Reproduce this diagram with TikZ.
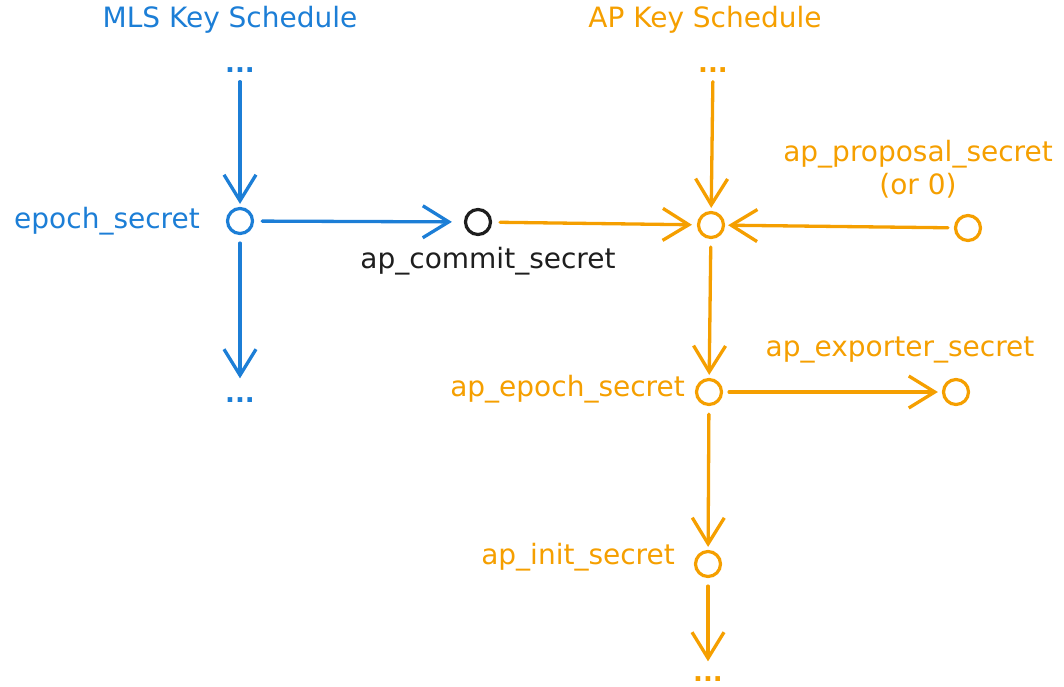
\documentclass[tikz,border=0pt]{standalone}
\usepackage{fontspec}
\setmainfont{DejaVu Sans}
\usetikzlibrary{arrows.meta}
\definecolor{mblue}{HTML}{1C7ED6}
\definecolor{morange}{HTML}{F59F00}
\definecolor{mblack}{HTML}{1E1E1E}
\tikzset{
  txt/.style={inner sep=1pt, font=\fontsize{28}{33}\selectfont},
  dots/.style={inner sep=1pt, font=\bfseries\fontsize{26}{30}\selectfont},
  dot/.style={circle, draw, line width=3.2pt, minimum size=25pt, inner sep=0pt},
  flow/.style={line width=3.3pt, line cap=round, -{Straight Barb[length=26pt,width=32pt,line width=3.3pt]}},
}
\begin{document}
\begin{tikzpicture}[x=1pt,y=-1pt]
\useasboundingbox (0,0) rectangle (1064,686);
% titles
\node[txt, text=mblue] (t1) at (230,20) {MLS Key Schedule};
\node[txt, text=morange] (t2) at (705,20) {AP Key Schedule};
% MLS column
\node[dots, text=mblue] (d1) at (240,70) {...};
\node[dot, draw=mblue] (es) at (240,221) {};
\node[txt, text=mblue, anchor=east] (esl) at (201,221) {epoch\_secret};
\node[dots, text=mblue] (d2) at (240,400) {...};
% commit
\node[dot, draw=mblack] (cs) at (478,222) {};
\node[txt, text=mblack] (csl) at (488,261) {ap\_commit\_secret};
% AP column
\node[dots, text=morange] (d3) at (713,70) {...};
\node[dot, draw=morange] (aps) at (711,225) {};
\node[dot, draw=morange] (ps) at (968,228) {};
\node[txt, text=morange, align=center] (psl) at (918,169) {ap\_proposal\_secret\\(or 0)};
\node[dot, draw=morange] (ae) at (709,392) {};
\node[txt, text=morange, anchor=east] (ael) at (686,389) {ap\_epoch\_secret};
\node[dot, draw=morange] (ex) at (956,392) {};
\node[txt, text=morange] (exl) at (900,350) {ap\_exporter\_secret};
\node[dot, draw=morange] (ai) at (708,564) {};
\node[txt, text=morange, anchor=east] (ail) at (676,557) {ap\_init\_secret};
\node[dots, text=morange] (d4) at (708,679) {...};
% connectors
\draw[flow, mblue, shorten <=8pt, shorten >=3pt] (d1) -- (es);
\draw[flow, mblue, shorten <=8pt, shorten >=18pt] (es) -- (d2);
\draw[flow, mblue, shorten <=8pt, shorten >=12pt] (es) -- (cs);
\draw[flow, morange, shorten <=8pt, shorten >=5pt] (cs) -- (aps);
\draw[flow, morange, shorten <=8pt, shorten >=3pt] (d3) -- (aps);
\draw[flow, morange, shorten <=6pt, shorten >=3pt] (ps) -- (aps);
\draw[flow, morange, shorten <=8pt, shorten >=3pt] (aps) -- (ae);
\draw[flow, morange, shorten <=6pt, shorten >=4pt] (ae) -- (ex);
\draw[flow, morange, shorten <=8pt, shorten >=3pt] (ae) -- (ai);
\draw[flow, morange, shorten <=8pt, shorten >=14pt] (ai) -- (d4);
\end{tikzpicture}
\end{document}
